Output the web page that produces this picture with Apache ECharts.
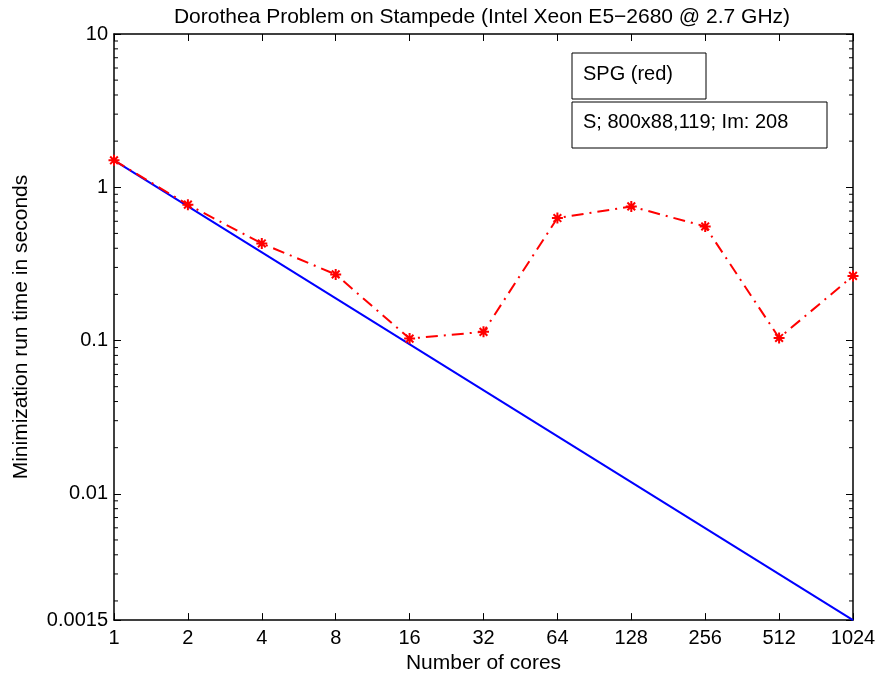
<!DOCTYPE html>
<html>
<head>
<meta charset="utf-8">
<script src="https://cdn.jsdelivr.net/npm/echarts@6/dist/echarts.min.js"></script>
<style>
html,body{margin:0;padding:0;background:#fff;}
#chart{width:883px;height:679px;}
</style>
</head>
<body>
<div id="chart"></div>
<script>
// ---- data ----
const titleText = 'Dorothea Problem on Stampede (Intel Xeon E5\u22122680 @ 2.7 GHz)';
const xAxisName = 'Number of cores';
const yAxisName = 'Minimization run time in seconds';
const cores = [1, 2, 4, 8, 16, 32, 64, 128, 256, 512, 1024];
const spgTimes = [1.5, 0.77, 0.43, 0.27, 0.103, 0.114, 0.63, 0.75, 0.555, 0.104, 0.264];
const idealCores = [1, 1024];
const idealTimes = [1.5, 0.0015];
const yMin = 0.0015, yMax = 10;
const legendLines = ['SPG (red)', 'S; 800x88,119; Im: 208'];

// minor tick values (2..9 x decades) inside y range
const minorTicks = [];
for (let k = -3; k <= 0; k++) {
  for (let m = 2; m <= 9; m++) {
    const v = m * Math.pow(10, k);
    if (v > yMin && v < yMax) minorTicks.push(v);
  }
}

const FONT = "'Liberation Sans', Arial, sans-serif";
const chart = echarts.init(document.getElementById('chart'), null, {renderer: 'canvas'});

const axisLineStyle = {show: true, lineStyle: {color: '#000', width: 1.5}};
const tickStyle = {show: true, inside: true, length: 7, lineStyle: {color: '#000', width: 1}};

const xBase = {
  type: 'log', logBase: 2, min: 1, max: 1024, interval: 1, splitNumber: 10,
  axisLine: axisLineStyle, axisTick: tickStyle, splitLine: {show: false}
};
const yBase = {
  type: 'log', logBase: 10, min: yMin, max: yMax,
  axisLine: axisLineStyle, axisTick: tickStyle, splitLine: {show: false}
};

const asterisk = 'path://M5,0L5,10M0,5L10,5M1.5,1.5L8.5,8.5M8.5,1.5L1.5,8.5';

chart.setOption({
  animation: false,
  backgroundColor: '#fff',
  textStyle: {fontFamily: FONT},
  title: {
    text: titleText, left: 477, top: 2, textAlign: 'center',
    textStyle: {fontFamily: FONT, fontSize: 21, fontWeight: 'normal', color: '#000'}
  },
  grid: {left: 114, right: 30, top: 34, bottom: 58, containLabel: false},
  xAxis: [
    Object.assign({}, xBase, {
      position: 'bottom', name: xAxisName, nameLocation: 'middle', nameGap: 32,
      nameTextStyle: {fontFamily: FONT, fontSize: 21, color: '#000'},
      axisLabel: {show: true, margin: 8, fontSize: 20, color: '#000', fontFamily: FONT,
        formatter: v => String(Math.round(v))}
    }),
    Object.assign({}, xBase, {position: 'top', axisLabel: {show: false}})
  ],
  yAxis: [
    Object.assign({}, yBase, {
      position: 'left', name: yAxisName, nameLocation: 'middle', nameGap: 82,
      nameTextStyle: {fontFamily: FONT, fontSize: 21, color: '#000'},
      axisLabel: {show: true, margin: 6, fontSize: 20, color: '#000', fontFamily: FONT,
        showMinLabel: true, showMaxLabel: true,
        formatter: v => String(parseFloat(Number(v).toPrecision(6)))}
    }),
    Object.assign({}, yBase, {position: 'right', axisLabel: {show: false}})
  ],
  graphic: [
    {type: 'rect', shape: {x: 572, y: 53, width: 134, height: 46},
     style: {fill: '#fff', stroke: '#000', lineWidth: 1}, z: 100},
    {type: 'text', x: 583, y: 74, style: {text: legendLines[0], fill: '#000',
      font: '20px ' + FONT, verticalAlign: 'middle'}, z: 101},
    {type: 'rect', shape: {x: 572, y: 102, width: 255, height: 46},
     style: {fill: '#fff', stroke: '#000', lineWidth: 1}, z: 100},
    {type: 'text', x: 583, y: 122, style: {text: legendLines[1], fill: '#000',
      font: '20px ' + FONT, verticalAlign: 'middle'}, z: 101}
  ],
  series: [
    {
      type: 'custom', xAxisIndex: 0, yAxisIndex: 0, silent: true, clip: false,
      data: minorTicks.map(v => [1, v]),
      renderItem: function (params, api) {
        const v = api.value(1);
        const pL = api.coord([1, v]);
        const pR = api.coord([1024, v]);
        return {type: 'group', children: [
          {type: 'line', shape: {x1: pL[0], y1: pL[1], x2: pL[0] + 4, y2: pL[1]},
           style: {stroke: '#000', lineWidth: 1}},
          {type: 'line', shape: {x1: pR[0] - 4, y1: pR[1], x2: pR[0], y2: pR[1]},
           style: {stroke: '#000', lineWidth: 1}}
        ]};
      }
    },
    {
      type: 'line', name: 'ideal', xAxisIndex: 0, yAxisIndex: 0,
      data: idealCores.map((c, i) => [c, idealTimes[i]]),
      showSymbol: false, symbol: 'none',
      lineStyle: {color: '#0000ff', width: 2}, z: 3
    },
    {
      type: 'line', name: 'SPG', xAxisIndex: 0, yAxisIndex: 0,
      data: cores.map((c, i) => [c, spgTimes[i]]),
      symbol: asterisk, symbolSize: 11, showSymbol: true,
      itemStyle: {color: '#ff0000', borderColor: '#ff0000', borderWidth: 2},
      lineStyle: {color: '#ff0000', width: 2, type: [12, 6, 2, 6]}, z: 4
    }
  ]
});
</script>
</body>
</html>
